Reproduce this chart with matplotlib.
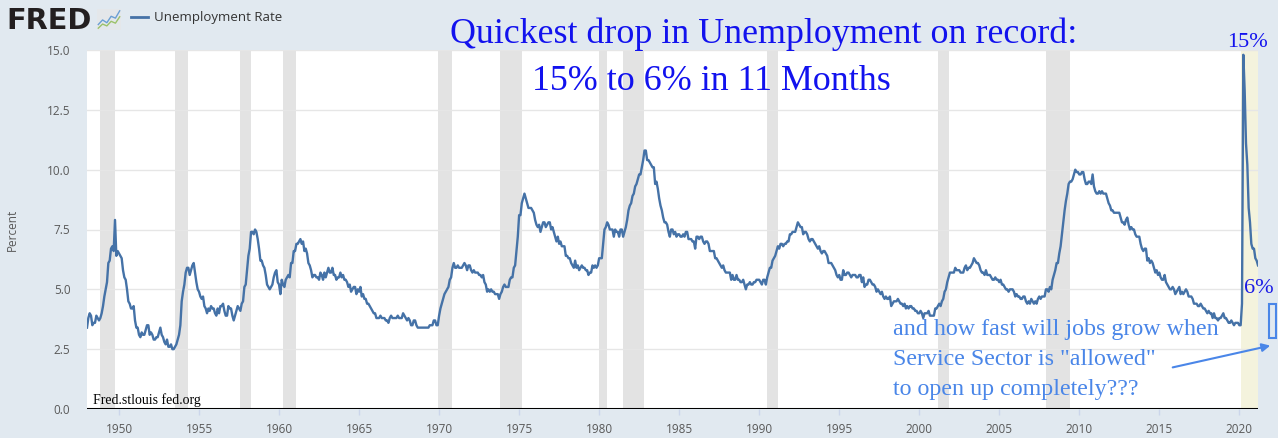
import matplotlib
matplotlib.use("Agg")
import matplotlib.pyplot as plt
from matplotlib.patches import FancyArrowPatch, Rectangle
import numpy as np

# ---------------- data (monthly unemployment rate, %) ----------------
start_year = 1948
u_1948_1959 = [
    3.4, 3.8, 4.0, 3.9, 3.5, 3.6, 3.6, 3.9, 3.8, 3.7, 3.8, 4.0,
    4.3, 4.7, 5.0, 5.3, 6.1, 6.2, 6.7, 6.8, 6.6, 7.9, 6.4, 6.6,
    6.5, 6.4, 6.3, 5.8, 5.5, 5.4, 5.0, 4.5, 4.4, 4.2, 4.2, 4.3,
    3.7, 3.4, 3.4, 3.1, 3.0, 3.2, 3.1, 3.1, 3.3, 3.5, 3.5, 3.1,
    3.2, 3.1, 2.9, 2.9, 3.0, 3.0, 3.2, 3.4, 3.1, 3.0, 2.8, 2.7,
    2.9, 2.6, 2.6, 2.7, 2.5, 2.5, 2.6, 2.7, 2.9, 3.1, 3.5, 4.5,
    4.9, 5.2, 5.7, 5.9, 5.9, 5.6, 5.8, 6.0, 6.1, 5.7, 5.3, 5.0,
    4.9, 4.7, 4.6, 4.7, 4.3, 4.2, 4.0, 4.2, 4.1, 4.3, 4.2, 4.2,
    4.0, 3.9, 4.2, 4.0, 4.3, 4.3, 4.4, 4.1, 3.9, 3.9, 4.3, 4.2,
    4.2, 3.9, 3.7, 3.9, 4.1, 4.3, 4.2, 4.1, 4.4, 4.5, 5.1, 5.2,
    5.8, 6.4, 6.7, 7.4, 7.4, 7.3, 7.5, 7.4, 7.1, 6.7, 6.2, 6.2,
    6.0, 5.9, 5.6, 5.2, 5.1, 5.0, 5.1, 5.2, 5.5, 5.7, 5.8, 5.3,
]
u_1960_1969 = [
    5.2, 4.8, 5.4, 5.2, 5.1, 5.4, 5.5, 5.6, 5.5, 6.1, 6.1, 6.6,
    6.6, 6.9, 6.9, 7.0, 7.1, 6.9, 7.0, 6.6, 6.7, 6.5, 6.1, 6.0,
    5.8, 5.5, 5.6, 5.6, 5.5, 5.5, 5.4, 5.7, 5.6, 5.4, 5.7, 5.5,
    5.7, 5.9, 5.7, 5.7, 5.9, 5.6, 5.6, 5.4, 5.5, 5.5, 5.7, 5.5,
    5.6, 5.4, 5.4, 5.3, 5.1, 5.2, 4.9, 5.0, 5.1, 5.1, 4.8, 5.0,
    4.9, 5.1, 4.7, 4.8, 4.6, 4.6, 4.4, 4.4, 4.3, 4.2, 4.1, 4.0,
    4.0, 3.8, 3.8, 3.8, 3.9, 3.8, 3.8, 3.8, 3.7, 3.7, 3.6, 3.8,
    3.9, 3.8, 3.8, 3.8, 3.8, 3.9, 3.8, 3.8, 3.8, 4.0, 3.9, 3.8,
    3.7, 3.8, 3.7, 3.5, 3.5, 3.7, 3.7, 3.5, 3.4, 3.4, 3.4, 3.4,
    3.4, 3.4, 3.4, 3.4, 3.4, 3.5, 3.5, 3.5, 3.7, 3.7, 3.5, 3.5,
]
u_1970_1979 = [
    3.9, 4.2, 4.4, 4.6, 4.8, 4.9, 5.0, 5.1, 5.4, 5.5, 5.9, 6.1,
    5.9, 5.9, 6.0, 5.9, 5.9, 5.9, 6.0, 6.1, 6.0, 5.8, 6.0, 6.0,
    5.8, 5.7, 5.8, 5.7, 5.7, 5.7, 5.6, 5.6, 5.5, 5.6, 5.3, 5.2,
    4.9, 5.0, 4.9, 5.0, 4.9, 4.9, 4.8, 4.8, 4.8, 4.6, 4.8, 4.9,
    5.1, 5.2, 5.1, 5.1, 5.1, 5.4, 5.5, 5.5, 5.9, 6.0, 6.6, 7.2,
    8.1, 8.1, 8.6, 8.8, 9.0, 8.8, 8.6, 8.4, 8.4, 8.4, 8.3, 8.2,
    7.9, 7.7, 7.6, 7.7, 7.4, 7.6, 7.8, 7.8, 7.6, 7.7, 7.8, 7.8,
    7.5, 7.6, 7.4, 7.2, 7.0, 7.2, 6.9, 7.0, 6.8, 6.8, 6.8, 6.4,
    6.4, 6.3, 6.3, 6.1, 6.0, 5.9, 6.2, 5.9, 6.0, 5.8, 5.9, 6.0,
    5.9, 5.9, 5.8, 5.8, 5.6, 5.7, 5.7, 6.0, 5.9, 6.0, 5.9, 6.0,
]
u_1980_1989 = [
    6.3, 6.3, 6.3, 6.9, 7.5, 7.6, 7.8, 7.7, 7.5, 7.5, 7.5, 7.2,
    7.5, 7.4, 7.4, 7.2, 7.5, 7.5, 7.2, 7.4, 7.6, 7.9, 8.3, 8.5,
    8.6, 8.9, 9.0, 9.3, 9.4, 9.6, 9.8, 9.8, 10.1, 10.4, 10.8, 10.8,
    10.4, 10.4, 10.3, 10.2, 10.1, 10.1, 9.4, 9.5, 9.2, 8.8, 8.5, 8.3,
    8.0, 7.8, 7.8, 7.7, 7.4, 7.2, 7.5, 7.5, 7.3, 7.4, 7.2, 7.3,
    7.3, 7.2, 7.2, 7.3, 7.2, 7.4, 7.4, 7.1, 7.1, 7.1, 7.0, 7.0,
    6.7, 7.2, 7.2, 7.1, 7.2, 7.2, 7.0, 6.9, 7.0, 7.0, 6.9, 6.6,
    6.6, 6.6, 6.6, 6.3, 6.3, 6.2, 6.1, 6.0, 5.9, 6.0, 5.8, 5.7,
    5.7, 5.7, 5.7, 5.4, 5.6, 5.4, 5.4, 5.6, 5.4, 5.4, 5.3, 5.3,
    5.4, 5.2, 5.0, 5.2, 5.2, 5.3, 5.2, 5.2, 5.3, 5.3, 5.4, 5.4,
]
u_1990_1999 = [
    5.4, 5.3, 5.2, 5.4, 5.4, 5.2, 5.5, 5.7, 5.9, 5.9, 6.2, 6.3,
    6.4, 6.6, 6.8, 6.7, 6.9, 6.9, 6.8, 6.9, 6.9, 7.0, 7.0, 7.3,
    7.3, 7.4, 7.4, 7.4, 7.6, 7.8, 7.7, 7.6, 7.6, 7.3, 7.4, 7.4,
    7.3, 7.1, 7.0, 7.1, 7.1, 7.0, 6.9, 6.8, 6.7, 6.8, 6.6, 6.5,
    6.6, 6.6, 6.5, 6.4, 6.1, 6.1, 6.1, 6.0, 5.9, 5.8, 5.6, 5.5,
    5.6, 5.4, 5.4, 5.8, 5.6, 5.6, 5.7, 5.7, 5.6, 5.5, 5.6, 5.6,
    5.6, 5.5, 5.5, 5.6, 5.6, 5.3, 5.5, 5.1, 5.2, 5.2, 5.4, 5.4,
    5.3, 5.2, 5.2, 5.1, 4.9, 5.0, 4.9, 4.8, 4.9, 4.7, 4.6, 4.7,
    4.6, 4.6, 4.7, 4.3, 4.4, 4.5, 4.5, 4.5, 4.6, 4.5, 4.4, 4.4,
    4.3, 4.4, 4.2, 4.3, 4.2, 4.3, 4.3, 4.2, 4.2, 4.1, 4.1, 4.0,
]
u_2000_2009 = [
    4.0, 4.1, 4.0, 3.8, 4.0, 4.0, 4.0, 4.1, 3.9, 3.9, 3.9, 3.9,
    4.2, 4.2, 4.3, 4.4, 4.3, 4.5, 4.6, 4.9, 5.0, 5.3, 5.5, 5.7,
    5.7, 5.7, 5.7, 5.9, 5.8, 5.8, 5.8, 5.7, 5.7, 5.7, 5.9, 6.0,
    5.8, 5.9, 5.9, 6.0, 6.1, 6.3, 6.2, 6.1, 6.1, 6.0, 5.8, 5.7,
    5.7, 5.6, 5.8, 5.6, 5.6, 5.6, 5.5, 5.4, 5.4, 5.5, 5.4, 5.4,
    5.3, 5.4, 5.2, 5.2, 5.1, 5.0, 5.0, 4.9, 5.0, 5.0, 5.0, 4.9,
    4.7, 4.8, 4.7, 4.7, 4.6, 4.6, 4.7, 4.7, 4.5, 4.4, 4.5, 4.4,
    4.6, 4.5, 4.4, 4.5, 4.4, 4.6, 4.7, 4.6, 4.7, 4.7, 4.7, 5.0,
    5.0, 4.9, 5.1, 5.0, 5.4, 5.6, 5.8, 6.1, 6.1, 6.5, 6.8, 7.3,
    7.8, 8.3, 8.7, 9.0, 9.4, 9.5, 9.5, 9.6, 9.8, 10.0, 9.9, 9.9,
]
u_2010_2021 = [
    9.8, 9.8, 9.9, 9.9, 9.6, 9.4, 9.4, 9.5, 9.5, 9.4, 9.8, 9.3,
    9.1, 9.0, 9.0, 9.1, 9.0, 9.1, 9.0, 9.0, 9.0, 8.8, 8.6, 8.5,
    8.3, 8.3, 8.2, 8.2, 8.2, 8.2, 8.2, 8.0, 7.8, 7.8, 7.7, 7.9,
    8.0, 7.7, 7.5, 7.6, 7.5, 7.5, 7.3, 7.2, 7.2, 7.2, 6.9, 6.7,
    6.6, 6.7, 6.7, 6.2, 6.3, 6.1, 6.2, 6.1, 5.9, 5.7, 5.8, 5.6,
    5.7, 5.5, 5.4, 5.4, 5.6, 5.3, 5.2, 5.1, 5.0, 5.0, 5.1, 5.0,
    4.8, 4.9, 5.0, 5.1, 4.8, 4.9, 4.8, 4.9, 5.0, 4.9, 4.7, 4.7,
    4.7, 4.6, 4.4, 4.4, 4.4, 4.3, 4.3, 4.4, 4.3, 4.2, 4.2, 4.1,
    4.0, 4.1, 4.0, 4.0, 3.8, 4.0, 3.8, 3.8, 3.7, 3.8, 3.8, 3.9,
    4.0, 3.8, 3.8, 3.7, 3.6, 3.6, 3.7, 3.6, 3.5, 3.6, 3.6, 3.6,
    3.5, 3.5, 4.4, 14.8, 13.3, 11.1, 10.2, 8.4, 7.8, 6.9, 6.7, 6.7,
    6.3, 6.2, 6.0,
]

# recession periods (start, end) as (year, month)
recession_starts = [(1948, 11), (1953, 7), (1957, 8), (1960, 4), (1969, 12), (1973, 11),
                    (1980, 1), (1981, 7), (1990, 7), (2001, 3), (2007, 12)]
recession_ends = [(1949, 10), (1954, 5), (1958, 4), (1961, 2), (1970, 11), (1975, 3),
                  (1980, 7), (1982, 11), (1991, 3), (2001, 11), (2009, 6)]
covid_start = (2020, 2)

x_ticks = [1950, 1955, 1960, 1965, 1970, 1975, 1980, 1985, 1990, 1995, 2000, 2005, 2010, 2015, 2020]
y_ticks = [0.0, 2.5, 5.0, 7.5, 10.0, 12.5, 15.0]

# ---------------- build ----------------
values = np.array(u_1948_1959 + u_1960_1969 + u_1970_1979 + u_1980_1989
                  + u_1990_1999 + u_2000_2009 + u_2010_2021)
t = start_year + np.arange(len(values)) / 12.0
t_end = t[-1]


def ym(y, m):
    return y + (m - 1) / 12.0


W, H = 1278, 438
BG = "#e1e9f0"
fig = plt.figure(figsize=(W / 100, H / 100), dpi=100, facecolor=BG)
ax = fig.add_axes([87 / W, 1 - 409 / H, (1258 - 87) / W, (409 - 50) / H])
ax.set_facecolor("white")

for s, e in zip(recession_starts, recession_ends):
    ax.axvspan(ym(*s), ym(*e), color="#e3e3e3", lw=0, zorder=1)
ax.axvspan(ym(*covid_start), t_end, color="#f4f3dd", lw=0, zorder=1)

for yt in y_ticks[1:]:
    ax.axhline(yt, color="#e6e6e6", lw=1, zorder=1.5)

ax.plot(t, values, color="#4572a7", lw=1.7, zorder=3, solid_joinstyle="round")
ax.axhline(0, color="black", lw=2.2, zorder=4)

ax.set_xlim(start_year, t_end)
ax.set_ylim(0, 15)
ax.set_xticks(x_ticks)
ax.set_xticklabels([str(v) for v in x_ticks])
ax.set_yticks(y_ticks)
ax.set_yticklabels([f"{v:.1f}" for v in y_ticks])
for sp in ax.spines.values():
    sp.set_visible(False)
ax.tick_params(axis="y", length=0, pad=12, labelsize=8.5, labelcolor="#595959")
ax.tick_params(axis="x", length=4, width=1, color="#ccd6eb", pad=6,
               labelsize=8.5, labelcolor="#595959")
for lab in ax.get_xticklabels() + ax.get_yticklabels():
    lab.set_fontfamily("Open Sans")
ax.set_ylabel("Percent", fontsize=8.5, color="#595959", family="Open Sans", labelpad=10)
ax.yaxis.set_label_coords(-(87 - 19) / (1258 - 87), 0.5)


def ft(x, y, s, **kw):
    fig.text(x / W, 1 - y / H, s, **kw)


# FRED header
ft(6, 29, "FRED", fontsize=20.8, fontweight="bold", color="#231f20", family="DejaVu Sans",
   va="baseline", ha="left")
iax = fig.add_axes([97 / W, 1 - 30 / H, 24 / W, 21 / H])
iax.set_facecolor("#e4e7ea")
iax.plot([0, 1, 2, 3, 4, 5], [1.2, 2.2, 1.6, 3.0, 2.6, 4.2], color="#6a9fd4", lw=1)
iax.plot([0, 1, 2, 3, 4, 5], [0.4, 1.3, 0.9, 1.9, 1.5, 2.9], color="#9cc26a", lw=1)
iax.set_xlim(-0.3, 5.3)
iax.set_ylim(0, 4.6)
iax.set_xticks([])
iax.set_yticks([])
for sp in iax.spines.values():
    sp.set_visible(False)
fig.add_artist(plt.Line2D([131 / W, 148 / W], [1 - 17 / H, 1 - 17 / H],
                          color="#4572a7", lw=2, transform=fig.transFigure))
ft(154, 17, "Unemployment Rate", fontsize=9.5, color="#333333", family="Open Sans",
   va="center", ha="left")

# annotations
serif = ["Liberation Serif", "DejaVu Serif"]
ft(764, 43, "Quickest drop in Unemployment on record:", fontsize=25.8, color="#1212ee",
   family=serif, ha="center", va="baseline")
ft(711, 90, "15% to 6% in 11 Months", fontsize=25.8, color="#1212ee",
   family=serif, ha="center", va="baseline")
ft(1247, 47, "15%", fontsize=16, color="#1212ee", family=serif, ha="center", va="baseline")
ft(1259, 293, "6%", fontsize=16, color="#1a1ae6", family=serif, ha="center", va="baseline")
lc = "#4a86e8"
ft(893, 335, "and how fast will jobs grow when", fontsize=17.3, color=lc, family=serif,
   ha="left", va="baseline")
ft(893, 365, "Service Sector is \"allowed\"", fontsize=17.3, color=lc, family=serif,
   ha="left", va="baseline")
ft(893, 395, "to open up completely???", fontsize=17.3, color=lc, family=serif,
   ha="left", va="baseline")
ft(93, 404, "Fred.stlouis fed.org", fontsize=10, color="black", family=serif,
   ha="left", va="baseline")

arrow = FancyArrowPatch((1170 / W, 1 - 368 / H), (1273 / W, 1 - 345 / H),
                        transform=fig.transFigure, arrowstyle="-|>", mutation_scale=12,
                        color=lc, lw=1.5)
fig.add_artist(arrow)
rect = Rectangle((1269 / W, 1 - 338 / H), 7 / W, 34 / H, transform=fig.transFigure,
                 fill=False, edgecolor=lc, lw=1.5)
fig.add_artist(rect)

fig.savefig("out.png", dpi=100, facecolor=BG)
